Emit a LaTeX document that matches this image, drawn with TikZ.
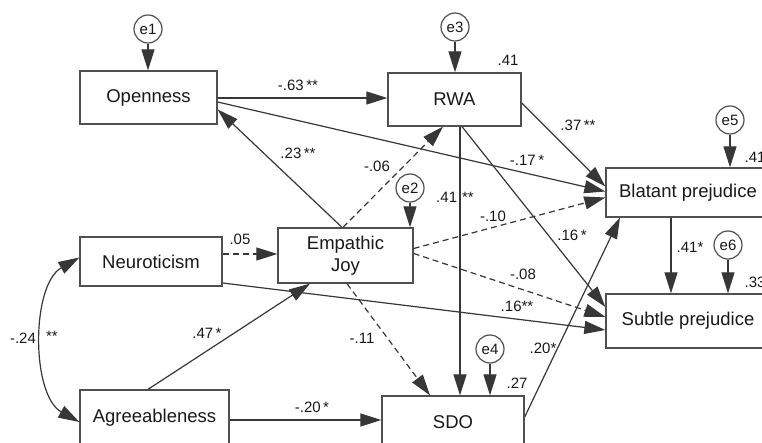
\documentclass[tikz,border=0pt]{standalone}
\usepackage{fontspec}
\setmainfont{Liberation Sans}
\usetikzlibrary{arrows.meta,calc}
\definecolor{linec}{RGB}{55,55,55}
\definecolor{boxc}{RGB}{80,80,80}
\definecolor{txtc}{RGB}{25,25,25}
\begin{document}
\begin{tikzpicture}[x=1pt,y=-1pt,
  box/.style={draw=boxc, line width=1.3pt, inner sep=0pt, align=center, text=txtc,
    font=\fontsize{18.5}{22}\selectfont},
  errc/.style={circle, draw=boxc, line width=1.2pt, minimum size=28pt, inner sep=0pt,
    text=txtc, font=\fontsize{15}{15}\selectfont},
  lab/.style={inner sep=0pt, text=txtc, font=\fontsize{15}{15}\selectfont},
  arr/.style={-{Triangle[length=21pt,width=13pt]}, line width=1.2pt, draw=linec},
  dsh/.style={arr, dash pattern=on 6pt off 4pt}
]
\useasboundingbox (0,0) rectangle (762,443);
\clip (0,0) rectangle (762,443);
\fill[white] (0,0) rectangle (762,443);

% boxes
\node[box, minimum width=137pt, minimum height=53pt] (open) at (148.5,97.5) {Openness};
\node[box, minimum width=133pt, minimum height=53pt] (rwa) at (454.5,99.5) {RWA};
\node[box, minimum width=164pt, minimum height=49pt] (bla) at (688,192.5) {Blatant prejudice};
\node[box, minimum width=164pt, minimum height=54pt] (sub) at (688,321) {Subtle prejudice};
\node[box, minimum width=135pt, minimum height=55pt] (emp) at (345.5,255.5) {Empathic\\Joy};
\node[box, minimum width=142pt, minimum height=49pt] (neu) at (151,261.5) {Neuroticism};
\node[box, minimum width=149pt, minimum height=56pt] (agr) at (154.5,418) {Agreeableness};
\node[box, minimum width=142pt, minimum height=52pt] (sdo) at (453,422) {SDO};

% error terms
\node[errc] (e1) at (148,29) {e1};
\node[errc] (e3) at (455,27) {e3};
\node[errc] (e2) at (410,188) {e2};
\node[errc] (e4) at (490,349) {e4};
\node[errc] (e5) at (730,120) {e5};
\node[errc] (e6) at (728,245) {e6};

\draw[arr] (e1.south) -- (e1.south |- open.north);
\draw[arr] (e3.south) -- (e3.south |- rwa.north);
\draw[arr] (e2.south) -- (e2.south |- emp.north);
\draw[arr] (e4.south) -- (e4.south |- sdo.north);
\draw[arr] (e5.south) -- (e5.south |- bla.north);
\draw[arr] (e6.south) -- (e6.south |- sub.north);

% paths
\draw[arr] ($(open.east)+(0,0.5)$) -- ($(rwa.west)+(0,-1.5)$);
\draw[arr] ($(open.east)+(0,4.5)$) -- ($(bla.west)+(0,-1)$);
\draw[arr] ($(rwa.east)+(0,3.5)$) -- ($(bla.west)+(0,-6)$);
\draw[dsh] ($(emp.east)+(0,-7)$) -- ($(bla.west)+(0,5)$);
\draw[dsh] ($(emp.east)+(0,-2)$) -- ($(sub.west)+(0,-4)$);
\draw[arr] ($(rwa.south)+(7.5,0)$) -- ($(sub.west)+(0,-14)$);
\draw[arr] ($(rwa.south)+(5.5,0)$) -- ($(sdo.north)+(7,0)$);
\draw[arr] ($(emp.north)+(-3.5,0)$) -- ($(open.east)+(0,12)$);
\draw[dsh] ($(emp.north)+(-2.5,0)$) -- ($(rwa.south)+(-11.5,0)$);
\draw[dsh] ($(emp.south)+(1.5,0)$) -- ($(sdo.north)+(-23,0)$);
\draw[dsh] ($(neu.east)+(0,-7.5)$) -- ($(emp.west)+(0,-1.5)$);
\draw[arr] ($(neu.east)+(0,21.5)$) -- ($(sub.west)+(0,9)$);
\draw[arr] ($(agr.north)+(-6.5,0)$) -- ($(emp.south)+(-35.5,0)$);
\draw[arr] ($(agr.east)+(0,2)$) -- ($(sdo.west)+(0,-2)$);
\draw[arr] ($(sdo.east)+(0,-5)$) -- ($(bla.south)+(-68,0)$);
\draw[arr] ($(bla.south)+(-17,0)$) -- ($(sub.north)+(-17,0)$);
\draw[arr, {Triangle[length=21pt,width=13pt]}-{Triangle[length=21pt,width=13pt]}]
  ($(neu.west)+(0,-4)$) .. controls (31,285) and (31,395) .. ($(agr.west)+(0,4)$);

% labels
\node[lab] at (298,85) {-.63\,**};
\node[lab] at (298,153) {.23\,**};
\node[lab] at (377,166) {-.06};
\node[lab] at (508,60) {.41};
\node[lab] at (578,125) {.37\,**};
\node[lab] at (527,160) {-.17\,*};
\node[lab] at (455,197) {.41\,\,**};
\node[lab] at (493,216) {-.10};
\node[lab] at (572,235) {.16\,*};
\node[lab] at (523,274) {-.08};
\node[lab] at (240,239) {.05};
\node[lab] at (23,338) {-.24};
\node[lab] at (52,336) {**};
\node[lab] at (207,333) {.47\,*};
\node[lab] at (362,338) {-.11};
\node[lab] at (517,306) {.16**};
\node[lab] at (543,348) {.20*};
\node[lab] at (517,383) {.27};
\node[lab] at (312,407) {-.20\,*};
\node[lab] at (690,247) {.41*};
\node[lab] at (755,157) {.41};
\node[lab] at (755,282) {.33};
\end{tikzpicture}
\end{document}
